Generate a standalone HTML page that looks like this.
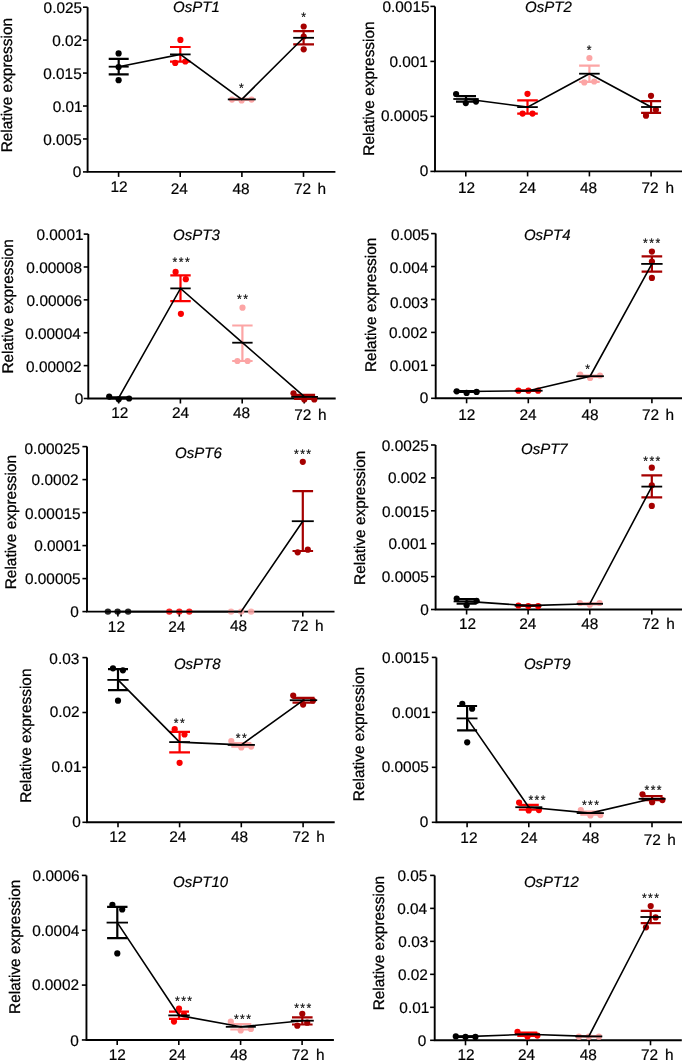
<!DOCTYPE html>
<html><head><meta charset="utf-8"><style>
html,body{margin:0;padding:0;background:#fff;}
svg{display:block;will-change:transform;}
text{font-family:"Liberation Sans",sans-serif;font-size:15.4px;fill:#000;stroke:#000;stroke-width:0.2px;text-rendering:geometricPrecision;}
.tl{text-anchor:end;}
.xl{text-anchor:middle;}
.ti{font-style:italic;font-size:15px;}
.yl{font-size:15.4px;stroke-width:0.3px;}
.ax{fill:none;stroke:#000;stroke-width:1.9;}
.tk{fill:none;stroke:#000;stroke-width:1.6;}
.eb{fill:none;stroke-width:2.2;}
.mn{fill:none;stroke:#000;stroke-width:1.8;}
.cl{fill:none;stroke:#000;stroke-width:1.6;}
.as{font-size:12.2px;text-anchor:middle;fill:#000;stroke:#000;stroke-width:0.2px;}
</style></head><body>
<svg width="685" height="1062" viewBox="0 0 685 1062">
<path d="M87.6 7.2V171.9H335.4" class="ax"/>
<path d="M83 171.9H87.6" class="tk"/>
<text x="81.3" y="176.7" class="tl">0</text>
<path d="M83 138.96H87.6" class="tk"/>
<text x="81.7" y="144.56" class="tl">0.005</text>
<path d="M83 106.02H87.6" class="tk"/>
<text x="82.6" y="111.62" class="tl">0.01</text>
<path d="M83 73.08H87.6" class="tk"/>
<text x="81.7" y="78.68" class="tl">0.015</text>
<path d="M83 40.14H87.6" class="tk"/>
<text x="82.1" y="46.14" class="tl">0.02</text>
<path d="M83 7.2H87.6" class="tk"/>
<text x="82.1" y="12.8" class="tl">0.025</text>
<path d="M118.6 171.9V176.9" class="tk"/>
<text x="118.95" y="192" class="xl">12</text>
<path d="M180.2 171.9V176.9" class="tk"/>
<text x="179.35" y="193.7" class="xl">24</text>
<path d="M241.9 171.9V176.9" class="tk"/>
<text x="240.95" y="193.7" class="xl">48</text>
<path d="M303.5 171.9V176.9" class="tk"/>
<text x="302.5" y="193.7" class="xl">72</text>
<text x="317.4" y="193.7" class="hl">h</text>
<text transform="translate(11.85,152.3) rotate(-90)" class="yl">Relative expression</text>
<text x="173.1" y="11.9" class="ti">OsPT1</text>
<path d="M435 6.4V171.4H682" class="ax"/>
<path d="M430.4 171.4H435" class="tk"/>
<text x="428.4" y="175.7" class="tl">0</text>
<path d="M430.4 116.4H435" class="tk"/>
<text x="428" y="120.77" class="tl">0.0005</text>
<path d="M430.4 61.4H435" class="tk"/>
<text x="427.9" y="67.33" class="tl">0.001</text>
<path d="M430.4 6.4H435" class="tk"/>
<text x="429.5" y="12" class="tl">0.0015</text>
<path d="M465.8 171.4V176.4" class="tk"/>
<text x="466.6" y="192.8" class="xl">12</text>
<path d="M527.6 171.4V176.4" class="tk"/>
<text x="527.5" y="193.4" class="xl">24</text>
<path d="M589.4 171.4V176.4" class="tk"/>
<text x="588.6" y="193.3" class="xl">48</text>
<path d="M651.1 171.4V176.4" class="tk"/>
<text x="650" y="192.9" class="xl">72</text>
<text x="665.6" y="192.9" class="hl">h</text>
<text transform="translate(373.9,155.7) rotate(-90)" class="yl">Relative expression</text>
<text x="525.1" y="12.2" class="ti">OsPT2</text>
<path d="M88.3 234.1V398.5H335.7" class="ax"/>
<path d="M83.7 398.5H88.3" class="tk"/>
<text x="83.4" y="403.7" class="tl">0</text>
<path d="M83.7 365.62H88.3" class="tk"/>
<text x="81.7" y="371.62" class="tl">0.00002</text>
<path d="M83.7 332.74H88.3" class="tk"/>
<text x="80.8" y="338.74" class="tl">0.00004</text>
<path d="M83.7 299.86H88.3" class="tk"/>
<text x="82.2" y="305.86" class="tl">0.00006</text>
<path d="M83.7 266.98H88.3" class="tk"/>
<text x="82" y="272.98" class="tl">0.00008</text>
<path d="M83.7 234.1H88.3" class="tk"/>
<text x="83.5" y="239.7" class="tl">0.0001</text>
<path d="M118.7 398.5V403.5" class="tk"/>
<text x="119.7" y="417.8" class="xl">12</text>
<path d="M180.4 398.5V403.5" class="tk"/>
<text x="180.5" y="417.8" class="xl">24</text>
<path d="M242.2 398.5V403.5" class="tk"/>
<text x="241.5" y="418.3" class="xl">48</text>
<path d="M304.2 398.5V403.5" class="tk"/>
<text x="302.8" y="419.6" class="xl">72</text>
<text x="318.1" y="419.6" class="hl">h</text>
<text transform="translate(13.3,373.6) rotate(-90)" class="yl">Relative expression</text>
<text x="173.1" y="240.1" class="ti">OsPT3</text>
<path d="M435.7 233.6V398.3H682" class="ax"/>
<path d="M431.1 398.3H435.7" class="tk"/>
<text x="428.4" y="402.9" class="tl">0</text>
<path d="M431.1 365.36H435.7" class="tk"/>
<text x="428.3" y="370.64" class="tl">0.001</text>
<path d="M431.1 332.42H435.7" class="tk"/>
<text x="427.5" y="338.48" class="tl">0.002</text>
<path d="M431.1 299.48H435.7" class="tk"/>
<text x="428.4" y="307.62" class="tl">0.003</text>
<path d="M431.1 266.54H435.7" class="tk"/>
<text x="428.3" y="273.06" class="tl">0.004</text>
<path d="M431.1 233.6H435.7" class="tk"/>
<text x="429.4" y="239.7" class="tl">0.005</text>
<path d="M466.6 398.3V403.3" class="tk"/>
<text x="466.8" y="419.5" class="xl">12</text>
<path d="M528.3 398.3V403.3" class="tk"/>
<text x="528.1" y="419.5" class="xl">24</text>
<path d="M590.1 398.3V403.3" class="tk"/>
<text x="590.1" y="419.6" class="xl">48</text>
<path d="M651.9 398.3V403.3" class="tk"/>
<text x="650.5" y="420.3" class="xl">72</text>
<text x="665.6" y="420.3" class="hl">h</text>
<text transform="translate(375.7,372) rotate(-90)" class="yl">Relative expression</text>
<text x="523.9" y="240" class="ti">OsPT4</text>
<path d="M87 446.6V611.6H334.5" class="ax"/>
<path d="M82.4 611.6H87" class="tk"/>
<text x="78.8" y="617" class="tl">0</text>
<path d="M82.4 578.6H87" class="tk"/>
<text x="80.6" y="584.2" class="tl">0.00005</text>
<path d="M82.4 545.6H87" class="tk"/>
<text x="81.3" y="551.2" class="tl">0.0001</text>
<path d="M82.4 512.6H87" class="tk"/>
<text x="80.6" y="519.4" class="tl">0.00015</text>
<path d="M82.4 479.6H87" class="tk"/>
<text x="78.7" y="485.2" class="tl">0.0002</text>
<path d="M82.4 446.6H87" class="tk"/>
<text x="80.2" y="453.6" class="tl">0.00025</text>
<path d="M117.9 611.6V616.6" class="tk"/>
<text x="116.4" y="631.5" class="xl">12</text>
<path d="M179.3 611.6V616.6" class="tk"/>
<text x="176.7" y="631.5" class="xl">24</text>
<path d="M241.1 611.6V616.6" class="tk"/>
<text x="238.5" y="631.2" class="xl">48</text>
<path d="M302.8 611.6V616.6" class="tk"/>
<text x="299.9" y="631.2" class="xl">72</text>
<text x="315.1" y="631.2" class="hl">h</text>
<text transform="translate(16.1,589.25) rotate(-90)" class="yl">Relative expression</text>
<text x="175.1" y="458.4" class="ti">OsPT6</text>
<path d="M435.6 445V609.5H682" class="ax"/>
<path d="M431 609.5H435.6" class="tk"/>
<text x="428.9" y="614.8" class="tl">0</text>
<path d="M431 576.6H435.6" class="tk"/>
<text x="428.9" y="581.96" class="tl">0.0005</text>
<path d="M431 543.7H435.6" class="tk"/>
<text x="427" y="549.12" class="tl">0.001</text>
<path d="M431 510.8H435.6" class="tk"/>
<text x="429" y="516.68" class="tl">0.0015</text>
<path d="M431 477.9H435.6" class="tk"/>
<text x="426.4" y="483.44" class="tl">0.002</text>
<path d="M431 445H435.6" class="tk"/>
<text x="428.9" y="450.6" class="tl">0.0025</text>
<path d="M466.6 609.5V614.5" class="tk"/>
<text x="467.5" y="629.4" class="xl">12</text>
<path d="M528.1 609.5V614.5" class="tk"/>
<text x="527.7" y="629.4" class="xl">24</text>
<path d="M589.8 609.5V614.5" class="tk"/>
<text x="589.7" y="629.4" class="xl">48</text>
<path d="M651.8 609.5V614.5" class="tk"/>
<text x="650.8" y="629.4" class="xl">72</text>
<text x="666.3" y="629.4" class="hl">h</text>
<text transform="translate(365.25,584.95) rotate(-90)" class="yl">Relative expression</text>
<text x="521" y="453.7" class="ti">OsPT7</text>
<path d="M87 657.6V822.3H334.7" class="ax"/>
<path d="M82.4 822.3H87" class="tk"/>
<text x="80.8" y="826.9" class="tl">0</text>
<path d="M82.4 767.4H87" class="tk"/>
<text x="81.5" y="772.07" class="tl">0.01</text>
<path d="M82.4 712.5H87" class="tk"/>
<text x="79.6" y="717.23" class="tl">0.02</text>
<path d="M82.4 657.6H87" class="tk"/>
<text x="79.3" y="663.5" class="tl">0.03</text>
<path d="M118 822.3V827.3" class="tk"/>
<text x="117.85" y="842" class="xl">12</text>
<path d="M179.6 822.3V827.3" class="tk"/>
<text x="177.8" y="842" class="xl">24</text>
<path d="M241.3 822.3V827.3" class="tk"/>
<text x="239.6" y="841.6" class="xl">48</text>
<path d="M303.1 822.3V827.3" class="tk"/>
<text x="301" y="841.6" class="xl">72</text>
<text x="316.3" y="841.6" class="hl">h</text>
<text transform="translate(31.15,802.85) rotate(-90)" class="yl">Relative expression</text>
<text x="173.9" y="668.5" class="ti">OsPT8</text>
<path d="M436.4 657.4V822.3H682" class="ax"/>
<path d="M431.8 822.3H436.4" class="tk"/>
<text x="428.4" y="827.2" class="tl">0</text>
<path d="M431.8 767.33H436.4" class="tk"/>
<text x="428.8" y="772.33" class="tl">0.0005</text>
<path d="M431.8 712.37H436.4" class="tk"/>
<text x="430.6" y="717.87" class="tl">0.001</text>
<path d="M431.8 657.4H436.4" class="tk"/>
<text x="429.2" y="663" class="tl">0.0015</text>
<path d="M467.1 822.3V827.3" class="tk"/>
<text x="468.9" y="843.1" class="xl">12</text>
<path d="M528.8 822.3V827.3" class="tk"/>
<text x="529.1" y="843.1" class="xl">24</text>
<path d="M590.4 822.3V827.3" class="tk"/>
<text x="590.8" y="843.2" class="xl">48</text>
<path d="M652 822.3V827.3" class="tk"/>
<text x="652.2" y="845.3" class="xl">72</text>
<text x="667.2" y="845.3" class="hl">h</text>
<text transform="translate(363.7,801.15) rotate(-90)" class="yl">Relative expression</text>
<text x="523.9" y="668.5" class="ti">OsPT9</text>
<path d="M86.45 875.4V1039.95H333.9" class="ax"/>
<path d="M81.85 1039.95H86.45" class="tk"/>
<text x="78.7" y="1045.6" class="tl">0</text>
<path d="M81.85 985.1H86.45" class="tk"/>
<text x="79" y="990.47" class="tl">0.0002</text>
<path d="M81.85 930.25H86.45" class="tk"/>
<text x="79.3" y="936.03" class="tl">0.0004</text>
<path d="M81.85 875.4H86.45" class="tk"/>
<text x="79.7" y="881.3" class="tl">0.0006</text>
<path d="M117.2 1039.95V1044.95" class="tk"/>
<text x="117.2" y="1060.1" class="xl">12</text>
<path d="M178.8 1039.95V1044.95" class="tk"/>
<text x="177.3" y="1060.1" class="xl">24</text>
<path d="M240.6 1039.95V1044.95" class="tk"/>
<text x="238.8" y="1060.1" class="xl">48</text>
<path d="M302.1 1039.95V1044.95" class="tk"/>
<text x="300.2" y="1060.1" class="xl">72</text>
<text x="315.9" y="1060.1" class="hl">h</text>
<text transform="translate(20.1,1013.95) rotate(-90)" class="yl">Relative expression</text>
<text x="173.1" y="887" class="ti">OsPT10</text>
<path d="M434.7 875.4V1040.3H681.8" class="ax"/>
<path d="M430.1 1040.3H434.7" class="tk"/>
<text x="426.4" y="1045.8" class="tl">0</text>
<path d="M430.1 1007.32H434.7" class="tk"/>
<text x="429.3" y="1012.86" class="tl">0.01</text>
<path d="M430.1 974.34H434.7" class="tk"/>
<text x="427.9" y="980.02" class="tl">0.02</text>
<path d="M430.1 941.36H434.7" class="tk"/>
<text x="428.3" y="946.68" class="tl">0.03</text>
<path d="M430.1 908.38H434.7" class="tk"/>
<text x="427.2" y="913.84" class="tl">0.04</text>
<path d="M430.1 875.4H434.7" class="tk"/>
<text x="427.4" y="881" class="tl">0.05</text>
<path d="M465.5 1040.3V1045.3" class="tk"/>
<text x="466" y="1060.1" class="xl">12</text>
<path d="M527.2 1040.3V1045.3" class="tk"/>
<text x="526.5" y="1060.1" class="xl">24</text>
<path d="M589.1 1040.3V1045.3" class="tk"/>
<text x="588.2" y="1060.1" class="xl">48</text>
<path d="M650.5 1040.3V1045.3" class="tk"/>
<text x="649.6" y="1060.1" class="xl">72</text>
<text x="665.1" y="1060.1" class="hl">h</text>
<text transform="translate(383.55,1010.3) rotate(-90)" class="yl">Relative expression</text>
<text x="523.9" y="887" class="ti">OsPT12</text>
<circle cx="118.6" cy="53.4" r="3.1" fill="#000000"/>
<circle cx="118.6" cy="67" r="3.1" fill="#000000"/>
<circle cx="118.6" cy="80.2" r="3.1" fill="#000000"/>
<circle cx="180.4" cy="39.9" r="3.1" fill="#fa0000"/>
<circle cx="175.2" cy="62.9" r="3.1" fill="#fa0000"/>
<circle cx="185.3" cy="61.5" r="3.1" fill="#fa0000"/>
<circle cx="232" cy="99.6" r="3.1" fill="#fca5a5"/>
<circle cx="241.6" cy="100.5" r="3.1" fill="#fca5a5"/>
<circle cx="251.6" cy="99.6" r="3.1" fill="#fca5a5"/>
<circle cx="303.7" cy="26.5" r="3.1" fill="#a50000"/>
<circle cx="303.7" cy="36.5" r="3.1" fill="#a50000"/>
<circle cx="303.7" cy="49.3" r="3.1" fill="#a50000"/>
<path d="M108.7 58.8H128.7M108.7 74.4H128.7M118.7 58.8V74.4" stroke="#000000" class="eb"/>
<path d="M170 47H190.6M170 61.7H190.6M180.3 47V61.7" stroke="#fa0000" class="eb"/>
<path d="M231.8 98.9H251.8M231.8 100H251.8M241.8 98.9V100" stroke="#fca5a5" class="eb"/>
<path d="M293.2 31.2H314M293.2 44.3H314M303.6 31.2V44.3" stroke="#a50000" class="eb"/>
<path d="M108.7 66.7H128.7" class="mn"/>
<path d="M170 54.4H190.6" class="mn"/>
<path d="M227.8 99.4H255.8" class="mn"/>
<path d="M293.2 37.8H314" class="mn"/>
<polyline points="118.7,66.7 180.3,54.4 241.8,99.4 303.6,37.8" class="cl"/>
<text x="241.4" y="91.54" class="as">*</text>
<text x="303.5" y="20.64" class="as">*</text>
<circle cx="456.1" cy="94" r="3.1" fill="#000000"/>
<circle cx="465.8" cy="103.1" r="3.1" fill="#000000"/>
<circle cx="476" cy="101.6" r="3.1" fill="#000000"/>
<circle cx="527.5" cy="93.8" r="3.1" fill="#fa0000"/>
<circle cx="522.6" cy="113.6" r="3.1" fill="#fa0000"/>
<circle cx="532.5" cy="113.6" r="3.1" fill="#fa0000"/>
<circle cx="589.4" cy="58" r="3.1" fill="#fca5a5"/>
<circle cx="584.3" cy="82.4" r="3.1" fill="#fca5a5"/>
<circle cx="594.2" cy="81.5" r="3.1" fill="#fca5a5"/>
<circle cx="651" cy="95.8" r="3.1" fill="#a50000"/>
<circle cx="646" cy="115.7" r="3.1" fill="#a50000"/>
<circle cx="655.9" cy="109.8" r="3.1" fill="#a50000"/>
<path d="M456 96.1H476M456 101.7H476M466 96.1V101.7" stroke="#000000" class="eb"/>
<path d="M517.2 100.3H537.8M517.2 113.7H537.8M527.5 100.3V113.7" stroke="#fa0000" class="eb"/>
<path d="M579.1 65.7H599.7M579.1 81.9H599.7M589.4 65.7V81.9" stroke="#fca5a5" class="eb"/>
<path d="M641.1 101.2H661.1M641.1 112.9H661.1M651.1 101.2V112.9" stroke="#a50000" class="eb"/>
<path d="M453.3 99H478.7" class="mn"/>
<path d="M517.2 107.1H537.8" class="mn"/>
<path d="M579.1 73.7H599.7" class="mn"/>
<path d="M641.1 107H661.1" class="mn"/>
<polyline points="466,99 527.5,107.1 589.4,73.7 651.1,107" class="cl"/>
<text x="589.2" y="54.24" class="as">*</text>
<circle cx="109.2" cy="396.6" r="3.1" fill="#000000"/>
<circle cx="118.7" cy="399.3" r="3.1" fill="#000000"/>
<circle cx="129.1" cy="398.5" r="3.1" fill="#000000"/>
<circle cx="175.6" cy="271.9" r="3.1" fill="#fa0000"/>
<circle cx="185.8" cy="279.2" r="3.1" fill="#fa0000"/>
<circle cx="180.9" cy="313.8" r="3.1" fill="#fa0000"/>
<circle cx="242.5" cy="307.7" r="3.1" fill="#fca5a5"/>
<circle cx="237.4" cy="361" r="3.1" fill="#fca5a5"/>
<circle cx="247.6" cy="361" r="3.1" fill="#fca5a5"/>
<circle cx="293.5" cy="393.3" r="3.1" fill="#a50000"/>
<circle cx="304.3" cy="399.5" r="3.1" fill="#a50000"/>
<circle cx="314.3" cy="399.5" r="3.1" fill="#a50000"/>
<path d="M108.7 397.3H128.7M108.7 398.5H128.7M118.7 397.3V398.5" stroke="#000000" class="eb"/>
<path d="M170.3 275.3H190.7M170.3 301.1H190.7M180.5 275.3V301.1" stroke="#fa0000" class="eb"/>
<path d="M232.2 325.5H252.6M232.2 361H252.6M242.4 325.5V361" stroke="#fca5a5" class="eb"/>
<path d="M294.1 394.9H315.1M294.1 398.8H315.1M304.6 394.9V398.8" stroke="#a50000" class="eb"/>
<path d="M106.7 397.9H130.7" class="mn"/>
<path d="M170.3 288.4H190.7" class="mn"/>
<path d="M232.2 342.7H252.6" class="mn"/>
<path d="M291.2 396.9H318" class="mn"/>
<polyline points="118.7,397.9 180.5,288.4 242.4,342.7 304.6,396.9" class="cl"/>
<text x="174.95" y="265.54" class="as">*</text>
<text x="181.1" y="265.54" class="as">*</text>
<text x="187.25" y="265.54" class="as">*</text>
<text x="239.43" y="303.14" class="as">*</text>
<text x="245.57" y="303.14" class="as">*</text>
<circle cx="456.7" cy="391.3" r="3.1" fill="#000000"/>
<circle cx="466.6" cy="392.9" r="3.1" fill="#000000"/>
<circle cx="476.6" cy="391.9" r="3.1" fill="#000000"/>
<circle cx="518.4" cy="390.7" r="3.1" fill="#fa0000"/>
<circle cx="528.4" cy="390.7" r="3.1" fill="#fa0000"/>
<circle cx="538.1" cy="390.7" r="3.1" fill="#fa0000"/>
<circle cx="580.2" cy="374.6" r="3.1" fill="#fca5a5"/>
<circle cx="590.1" cy="377.9" r="3.1" fill="#fca5a5"/>
<circle cx="600" cy="375.5" r="3.1" fill="#fca5a5"/>
<circle cx="651.9" cy="251.6" r="3.1" fill="#a50000"/>
<circle cx="651.9" cy="261.5" r="3.1" fill="#a50000"/>
<circle cx="651.9" cy="277.9" r="3.1" fill="#a50000"/>
<path d="M456.6 391H476.6M456.6 392H476.6M466.6 391V392" stroke="#000000" class="eb"/>
<path d="M518.6 390.4H538.6M518.6 391H538.6M528.6 390.4V391" stroke="#fa0000" class="eb"/>
<path d="M580.1 375.5H600.1M580.1 377H600.1M590.1 375.5V377" stroke="#fca5a5" class="eb"/>
<path d="M641.6 256.4H662.2M641.6 271.6H662.2M651.9 256.4V271.6" stroke="#a50000" class="eb"/>
<path d="M453.6 391.5H479.6" class="mn"/>
<path d="M514.6 390.7H542.6" class="mn"/>
<path d="M576.3 376.2H603.9" class="mn"/>
<path d="M641.2 263.9H662.6" class="mn"/>
<polyline points="466.6,391.5 528.6,390.7 590.1,376.2 651.9,263.9" class="cl"/>
<text x="587.5" y="373.24" class="as">*</text>
<text x="645.45" y="247.14" class="as">*</text>
<text x="651.6" y="247.14" class="as">*</text>
<text x="657.75" y="247.14" class="as">*</text>
<circle cx="302.8" cy="461.8" r="3.1" fill="#a50000"/>
<circle cx="297.7" cy="552.3" r="3.1" fill="#a50000"/>
<circle cx="307.8" cy="549.7" r="3.1" fill="#a50000"/>
<path d="M292.5 491.2H313.1M292.5 551H313.1M302.8 491.2V551" stroke="#a50000" class="eb"/>
<path d="M291.8 521.2H313.8" class="mn"/>
<circle cx="107.9" cy="611.6" r="3.2" fill="#000000" fill-opacity="0.85"/>
<circle cx="117.6" cy="611.6" r="3.2" fill="#000000" fill-opacity="0.85"/>
<circle cx="128.1" cy="611.6" r="3.2" fill="#000000" fill-opacity="0.85"/>
<circle cx="169.3" cy="611.6" r="3.2" fill="#fa0000" fill-opacity="0.85"/>
<circle cx="179.3" cy="611.6" r="3.2" fill="#fa0000" fill-opacity="0.85"/>
<circle cx="189.3" cy="611.6" r="3.2" fill="#fa0000" fill-opacity="0.85"/>
<circle cx="231.1" cy="611.6" r="3.2" fill="#fca5a5" fill-opacity="0.85"/>
<circle cx="241.1" cy="611.6" r="3.2" fill="#fca5a5" fill-opacity="0.85"/>
<circle cx="251.1" cy="611.6" r="3.2" fill="#fca5a5" fill-opacity="0.85"/>
<polyline points="117.9,611.6 179.3,611.6 241.1,611.6 302.8,521.2" class="cl"/>
<text x="296.35" y="458.04" class="as">*</text>
<text x="302.5" y="458.04" class="as">*</text>
<text x="308.65" y="458.04" class="as">*</text>
<circle cx="456.7" cy="598.5" r="3.1" fill="#000000"/>
<circle cx="466.6" cy="605.2" r="3.1" fill="#000000"/>
<circle cx="476.6" cy="600.8" r="3.1" fill="#000000"/>
<circle cx="518.4" cy="605.5" r="3.1" fill="#fa0000"/>
<circle cx="528.3" cy="606.1" r="3.1" fill="#fa0000"/>
<circle cx="538.2" cy="606.1" r="3.1" fill="#fa0000"/>
<circle cx="579.9" cy="603" r="3.1" fill="#fca5a5"/>
<circle cx="589.8" cy="604.7" r="3.1" fill="#fca5a5"/>
<circle cx="599.6" cy="603" r="3.1" fill="#fca5a5"/>
<circle cx="651.8" cy="467.7" r="3.1" fill="#a50000"/>
<circle cx="651.8" cy="485.3" r="3.1" fill="#a50000"/>
<circle cx="651.8" cy="505.9" r="3.1" fill="#a50000"/>
<path d="M456.6 599.2H476.6M456.6 603.6H476.6M466.6 599.2V603.6" stroke="#000000" class="eb"/>
<path d="M518.1 605.3H538.1M518.1 606H538.1M528.1 605.3V606" stroke="#fa0000" class="eb"/>
<path d="M579.8 603.4H599.8M579.8 604.3H599.8M589.8 603.4V604.3" stroke="#fca5a5" class="eb"/>
<path d="M641.4 475.4H662.2M641.4 497.3H662.2M651.8 475.4V497.3" stroke="#a50000" class="eb"/>
<path d="M453.6 601.4H479.6" class="mn"/>
<path d="M514.6 605.6H541.6" class="mn"/>
<path d="M576.6 603.8H603" class="mn"/>
<path d="M641.4 486.6H662.2" class="mn"/>
<polyline points="466.6,601.4 528.1,605.6 589.8,603.8 651.8,486.6" class="cl"/>
<text x="645.65" y="465.14" class="as">*</text>
<text x="651.8" y="465.14" class="as">*</text>
<text x="657.95" y="465.14" class="as">*</text>
<circle cx="113" cy="668.3" r="3.1" fill="#000000"/>
<circle cx="122.9" cy="670.3" r="3.1" fill="#000000"/>
<circle cx="118" cy="700.7" r="3.1" fill="#000000"/>
<circle cx="174.7" cy="729.2" r="3.1" fill="#fa0000"/>
<circle cx="184.5" cy="734.5" r="3.1" fill="#fa0000"/>
<circle cx="179.6" cy="762.8" r="3.1" fill="#fa0000"/>
<circle cx="231.3" cy="741.1" r="3.1" fill="#fca5a5"/>
<circle cx="241.3" cy="747.5" r="3.1" fill="#fca5a5"/>
<circle cx="251.2" cy="746.6" r="3.1" fill="#fca5a5"/>
<circle cx="293.2" cy="695.6" r="3.1" fill="#a50000"/>
<circle cx="303.1" cy="704.6" r="3.1" fill="#a50000"/>
<circle cx="313" cy="700.5" r="3.1" fill="#a50000"/>
<path d="M108 669.2H128M108 690.2H128M118 669.2V690.2" stroke="#000000" class="eb"/>
<path d="M169.2 731.9H190M169.2 752.3H190M179.6 731.9V752.3" stroke="#fa0000" class="eb"/>
<path d="M231.3 743.2H251.3M231.3 746.6H251.3M241.3 743.2V746.6" stroke="#fca5a5" class="eb"/>
<path d="M292.5 697.9H314.5M292.5 702.6H314.5M303.5 697.9V702.6" stroke="#a50000" class="eb"/>
<path d="M107.4 679.9H128.6" class="mn"/>
<path d="M169.2 742.1H190" class="mn"/>
<path d="M227.7 744.9H254.9" class="mn"/>
<path d="M289.8 700.2H317.2" class="mn"/>
<polyline points="118,679.9 179.6,742.1 241.3,744.9 303.5,700.2" class="cl"/>
<text x="176.23" y="727.34" class="as">*</text>
<text x="182.38" y="727.34" class="as">*</text>
<text x="238.23" y="742.44" class="as">*</text>
<text x="244.38" y="742.44" class="as">*</text>
<circle cx="462.3" cy="703.8" r="3.1" fill="#000000"/>
<circle cx="472.1" cy="708.7" r="3.1" fill="#000000"/>
<circle cx="467.2" cy="742.3" r="3.1" fill="#000000"/>
<circle cx="519.1" cy="802.6" r="3.1" fill="#fa0000"/>
<circle cx="528.7" cy="810.4" r="3.1" fill="#fa0000"/>
<circle cx="538.9" cy="810.1" r="3.1" fill="#fa0000"/>
<circle cx="580.8" cy="810.1" r="3.1" fill="#fca5a5"/>
<circle cx="590.4" cy="815.4" r="3.1" fill="#fca5a5"/>
<circle cx="600.4" cy="815.1" r="3.1" fill="#fca5a5"/>
<circle cx="642.5" cy="794.3" r="3.1" fill="#a50000"/>
<circle cx="652.1" cy="802.2" r="3.1" fill="#a50000"/>
<circle cx="662.4" cy="800.1" r="3.1" fill="#a50000"/>
<path d="M457.1 706H477.1M457.1 730.3H477.1M467.1 706V730.3" stroke="#000000" class="eb"/>
<path d="M518.8 804.9H538.8M518.8 809.6H538.8M528.8 804.9V809.6" stroke="#fa0000" class="eb"/>
<path d="M580.3 811.6H600.3M580.3 814.6H600.3M590.3 811.6V814.6" stroke="#fca5a5" class="eb"/>
<path d="M641.6 796.2H662.6M641.6 800.1H662.6M652.1 796.2V800.1" stroke="#a50000" class="eb"/>
<path d="M456.7 718.4H477.5" class="mn"/>
<path d="M515.3 807.2H542.3" class="mn"/>
<path d="M576.7 813.1H603.9" class="mn"/>
<path d="M638.6 798.8H665.6" class="mn"/>
<polyline points="467.1,718.4 528.8,807.2 590.3,813.1 652.1,798.8" class="cl"/>
<text x="530.75" y="804.24" class="as">*</text>
<text x="536.9" y="804.24" class="as">*</text>
<text x="543.05" y="804.24" class="as">*</text>
<text x="584.25" y="808.94" class="as">*</text>
<text x="590.4" y="808.94" class="as">*</text>
<text x="596.55" y="808.94" class="as">*</text>
<text x="646.85" y="794.24" class="as">*</text>
<text x="653" y="794.24" class="as">*</text>
<text x="659.15" y="794.24" class="as">*</text>
<circle cx="112.4" cy="904.8" r="3.1" fill="#000000"/>
<circle cx="122.2" cy="909.4" r="3.1" fill="#000000"/>
<circle cx="117.3" cy="953.4" r="3.1" fill="#000000"/>
<circle cx="179" cy="1008.5" r="3.1" fill="#fa0000"/>
<circle cx="174" cy="1021.6" r="3.1" fill="#fa0000"/>
<circle cx="184" cy="1014.5" r="3.1" fill="#fa0000"/>
<circle cx="230.8" cy="1021.7" r="3.1" fill="#fca5a5"/>
<circle cx="240.7" cy="1030.5" r="3.1" fill="#fca5a5"/>
<circle cx="250.9" cy="1029" r="3.1" fill="#fca5a5"/>
<circle cx="302.3" cy="1013.8" r="3.1" fill="#a50000"/>
<circle cx="297.3" cy="1025.7" r="3.1" fill="#a50000"/>
<circle cx="307.2" cy="1022.7" r="3.1" fill="#a50000"/>
<path d="M107.1 906.9H127.5M107.1 938.1H127.5M117.3 906.9V938.1" stroke="#000000" class="eb"/>
<path d="M169 1011.7H189M169 1018.9H189M179 1011.7V1018.9" stroke="#fa0000" class="eb"/>
<path d="M230.3 1024H251.3M230.3 1029.5H251.3M240.8 1024V1029.5" stroke="#fca5a5" class="eb"/>
<path d="M292 1017.3H312.6M292 1024.5H312.6M302.3 1017.3V1024.5" stroke="#a50000" class="eb"/>
<path d="M106.6 922.6H128" class="mn"/>
<path d="M168.3 1015.4H189.7" class="mn"/>
<path d="M225.8 1026.8H255.8" class="mn"/>
<path d="M290.8 1020.7H313.8" class="mn"/>
<polyline points="117.3,922.6 179,1015.4 240.8,1026.8 302.3,1020.7" class="cl"/>
<text x="177.35" y="1004.94" class="as">*</text>
<text x="183.5" y="1004.94" class="as">*</text>
<text x="189.65" y="1004.94" class="as">*</text>
<text x="236.25" y="1022.54" class="as">*</text>
<text x="242.4" y="1022.54" class="as">*</text>
<text x="248.55" y="1022.54" class="as">*</text>
<text x="296.55" y="1011.54" class="as">*</text>
<text x="302.7" y="1011.54" class="as">*</text>
<text x="308.85" y="1011.54" class="as">*</text>
<circle cx="455.8" cy="1036.4" r="3.1" fill="#000000"/>
<circle cx="465.5" cy="1036.9" r="3.1" fill="#000000"/>
<circle cx="475.4" cy="1036.9" r="3.1" fill="#000000"/>
<circle cx="517.5" cy="1031.9" r="3.1" fill="#fa0000"/>
<circle cx="527.5" cy="1036.4" r="3.1" fill="#fa0000"/>
<circle cx="537.4" cy="1035.6" r="3.1" fill="#fa0000"/>
<circle cx="578.9" cy="1036.7" r="3.1" fill="#fca5a5"/>
<circle cx="588.8" cy="1036.7" r="3.1" fill="#fca5a5"/>
<circle cx="598.9" cy="1036.7" r="3.1" fill="#fca5a5"/>
<circle cx="650.7" cy="906" r="3.1" fill="#a50000"/>
<circle cx="655.6" cy="917.4" r="3.1" fill="#a50000"/>
<circle cx="646" cy="927.3" r="3.1" fill="#a50000"/>
<path d="M455.6 1036.3H475.6M455.6 1037H475.6M465.6 1036.3V1037" stroke="#000000" class="eb"/>
<path d="M517.3 1032.7H537.3M517.3 1036H537.3M527.3 1032.7V1036" stroke="#fa0000" class="eb"/>
<path d="M578.8 1036.2H598.8M578.8 1036.7H598.8M588.8 1036.2V1036.7" stroke="#fca5a5" class="eb"/>
<path d="M640.7 910.8H660.7M640.7 923.1H660.7M650.7 910.8V923.1" stroke="#a50000" class="eb"/>
<path d="M453.6 1036.6H477.6" class="mn"/>
<path d="M514.8 1034.3H539.8" class="mn"/>
<path d="M575.3 1036.4H602.3" class="mn"/>
<path d="M640.4 917H661" class="mn"/>
<polyline points="465.6,1036.6 527.3,1034.3 588.8,1036.4 650.7,917" class="cl"/>
<text x="644.25" y="901.84" class="as">*</text>
<text x="650.4" y="901.84" class="as">*</text>
<text x="656.55" y="901.84" class="as">*</text>
</svg>
</body></html>
